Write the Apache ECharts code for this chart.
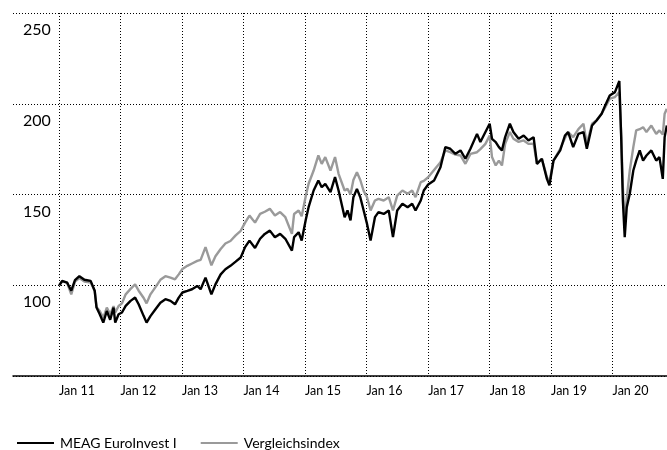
<!DOCTYPE html>
<html>
<head>
<meta charset="utf-8">
<title>MEAG EuroInvest I</title>
<script src="https://cdn.jsdelivr.net/npm/echarts@6/dist/echarts.min.js"></script>
<style>
  html, body { margin: 0; padding: 0; background: #fff; }
  #chart { width: 667px; height: 450px; }
</style>
</head>
<body>
<div id="chart"></div>
<script>
const dates = [
  '2011-01-03', '2011-01-20', '2011-02-18', '2011-03-15', '2011-04-06', '2011-05-02', '2011-06-01', '2011-07-08',
  '2011-08-01', '2011-08-12', '2011-08-31', '2011-09-21', '2011-10-12', '2011-11-01', '2011-11-21', '2011-12-01',
  '2011-12-21', '2012-01-10', '2012-02-01', '2012-03-01', '2012-03-28', '2012-04-18', '2012-05-18', '2012-06-04',
  '2012-06-27', '2012-07-27', '2012-08-25', '2012-09-24', '2012-10-24', '2012-11-20', '2012-12-12', '2013-01-03',
  '2013-02-01', '2013-03-01', '2013-04-01', '2013-04-21', '2013-05-20', '2013-06-24', '2013-07-18', '2013-08-18',
  '2013-09-15', '2013-10-15', '2013-11-15', '2013-12-15', '2014-01-10', '2014-02-05', '2014-03-10', '2014-04-09',
  '2014-05-07', '2014-06-06', '2014-07-06', '2014-08-06', '2014-09-06', '2014-10-15', '2014-10-28', '2014-11-24',
  '2014-12-12', '2015-01-05', '2015-01-22', '2015-02-21', '2015-03-21', '2015-04-10', '2015-05-01', '2015-06-01',
  '2015-06-28', '2015-07-19', '2015-08-24', '2015-09-10', '2015-09-28', '2015-10-15', '2015-11-05', '2015-11-25',
  '2015-12-15', '2016-01-04', '2016-01-25', '2016-02-20', '2016-03-12', '2016-04-12', '2016-05-12', '2016-06-06',
  '2016-07-01', '2016-08-01', '2016-09-01', '2016-09-28', '2016-10-18', '2016-11-18', '2016-12-06', '2017-01-01',
  '2017-02-05', '2017-03-15', '2017-04-13', '2017-05-12', '2017-06-12', '2017-07-12', '2017-08-10', '2017-09-09',
  '2017-10-18', '2017-11-07', '2017-12-07', '2018-01-01', '2018-01-15', '2018-02-06', '2018-02-25', '2018-03-15',
  '2018-04-03', '2018-05-01', '2018-05-22', '2018-06-22', '2018-07-22', '2018-08-19', '2018-09-19', '2018-10-09',
  '2018-11-07', '2018-12-07', '2018-12-22', '2019-01-15', '2019-02-24', '2019-03-24', '2019-04-12', '2019-05-12',
  '2019-06-12', '2019-07-12', '2019-08-01', '2019-09-01', '2019-09-28', '2019-10-28', '2019-11-18', '2019-12-15',
  '2020-01-15', '2020-02-10', '2020-02-21', '2020-03-02', '2020-03-13', '2020-03-25', '2020-04-12', '2020-05-03',
  '2020-05-20', '2020-06-10', '2020-06-30', '2020-07-20', '2020-08-18', '2020-09-16', '2020-10-05', '2020-10-25',
  '2020-11-05', '2020-11-18'
]
const meag = [
  100, 102.4, 101.5, 97, 102.8, 105, 103, 102.4,
  97, 87.7, 84, 79.4, 85.8, 81, 87.7, 79.4,
  84, 85, 88.6, 91.4, 93.2, 89.5, 83, 79.4,
  83, 86.8, 90.4, 92.3, 91.4, 89.5, 93.2, 96,
  96.9, 97.8, 99.6, 97.8, 104.2, 95, 100.5, 106,
  108.8, 110.7, 113, 115.3, 121, 124.6, 120.5, 125.6,
  128.3, 130.1, 126.5, 128.3, 125.6, 119.1, 126.5, 129.2,
  124.6, 136, 143, 152.2, 157.7, 154, 155.9, 151.3,
  159.6, 152.2, 137.5, 141.2, 135.7, 148.5, 153.1, 148.5,
  141.2, 133.8, 124.6, 137.5, 140.3, 139.3, 141.2, 126.5,
  141.2, 144.9, 143, 144.9, 141.2, 146.7, 152.2, 155.5,
  157.7, 165, 176.1, 175.2, 172.4, 174.3, 169.7, 175.2,
  183.4, 178.9, 184.4, 189, 180.7, 178.9, 176.1, 174.3,
  181.6, 189, 184.4, 180.7, 182.5, 179.8, 181.6, 166.9,
  169.7, 158.6, 155, 168.7, 174.3, 182.5, 184.4, 176.1,
  183.4, 184.4, 175.2, 188, 190.8, 194.5, 199.1, 204.6,
  206.4, 212.5, 181.6, 146.7, 126.5, 143, 150.4, 163.2,
  168.7, 174.3, 168.7, 171.5, 174.3, 168.7, 170.6, 158.6,
  181.6, 188
]
const vergleich = [
  100, 102, 101.5, 95, 102, 104, 102, 101.5,
  97, 88, 85.8, 82, 87.7, 84, 88.5, 85,
  88.6, 90, 95, 98, 100.5, 97, 93, 90,
  95, 99, 103, 105, 104.2, 103.3, 106, 109,
  110.7, 112, 113.4, 114, 121, 111, 116, 120,
  123, 124.4, 127.5, 130, 134.5, 138.4, 134.5, 139.3,
  140.5, 142.1, 138.4, 140.3, 137.5, 128.3, 139.3, 141.2,
  138, 149, 155.9, 163.2, 171.5, 166.9, 170.6, 163.2,
  170.6, 161.4, 152.2, 153.1, 150, 158, 162.3, 158,
  152, 148.5, 141.2, 146.7, 147.6, 146.7, 148.5, 141.2,
  149.4, 152.2, 150.4, 152.2, 148.5, 156.8, 157.5, 159.5,
  163.5, 167.8, 174.3, 173.3, 172, 171.5, 166.9, 172.4,
  173.3, 175, 177.9, 182.5, 170.6, 166, 168.7, 166,
  177.9, 184.4, 180.7, 179, 179.8, 177.9, 178, 166.9,
  169.7, 159.6, 157, 168.7, 175.2, 181, 184.4, 181.6,
  186, 189, 177.9, 189, 191, 194.5, 198, 202.8,
  203.7, 206.4, 183.4, 154, 134, 148, 163.2, 176.1,
  185.3, 186, 187.1, 184.4, 188, 183.4, 185.3, 183,
  194.5, 197.2
]
const tickDates = ['2011-01-01', '2012-01-01', '2013-01-01', '2014-01-01', '2015-01-01',
  '2016-01-01', '2017-01-01', '2018-01-01', '2019-01-01', '2020-01-01']
const tickLabels = ['Jan 11', 'Jan 12', 'Jan 13', 'Jan 14', 'Jan 15',
  'Jan 16', 'Jan 17', 'Jan 18', 'Jan 19', 'Jan 20']

const toTime = d => new Date(d).getTime()
const tickTimes = tickDates.map(toTime)
const font = 'Lato, "Open Sans", sans-serif'

const chart = echarts.init(document.getElementById('chart'))
chart.setOption({
  animation: false,
  textStyle: { fontFamily: font },
  grid: { left: 13, right: 0, top: 13, bottom: 74 },
  legend: {
    data: ['MEAG EuroInvest I', 'Vergleichsindex'],
    left: 12,
    top: 431,
    icon: 'rect',
    itemWidth: 37,
    itemHeight: 2,
    itemGap: 24,
    textStyle: { fontFamily: font, fontSize: 14, color: '#000', padding: [0, 0, 0, 1] }
  },
  xAxis: {
    type: 'value',
    min: toTime('2010-04-03'),
    max: toTime('2020-11-19'),
    axisLine: { show: true, lineStyle: { color: '#000', width: 1.5 } },
    axisTick: { show: false, customValues: tickTimes },
    axisLabel: {
      customValues: tickTimes,
      align: 'left',
      margin: 8,
      fontFamily: font,
      fontSize: 12.5,
      color: '#000',
      formatter: v => tickLabels[tickTimes.indexOf(v)] || ''
    },
    splitLine: { show: true, lineStyle: { color: '#000', width: 1, type: [1, 2] } }
  },
  yAxis: {
    type: 'value',
    min: 50,
    max: 250,
    interval: 50,
    axisLine: { show: false },
    axisTick: { show: false },
    axisLabel: {
      inside: true,
      margin: 10,
      verticalAlign: 'top',
      lineHeight: 34,
      showMinLabel: false,
      fontFamily: font,
      fontSize: 16,
      color: '#000'
    },
    splitLine: { show: true, lineStyle: { color: '#000', width: 1, type: [1, 2] } }
  },
  series: [
    {
      name: 'Vergleichsindex',
      type: 'line',
      data: dates.map((d, i) => [toTime(d), vergleich[i]]),
      showSymbol: false,
      symbol: 'none',
      color: '#9a9a9a',
      lineStyle: { color: '#9a9a9a', width: 2.4 }
    },
    {
      name: 'MEAG EuroInvest I',
      type: 'line',
      data: dates.map((d, i) => [toTime(d), meag[i]]),
      showSymbol: false,
      symbol: 'none',
      color: '#000',
      lineStyle: { color: '#000', width: 2.4 }
    }
  ]
})
</script>
</body>
</html>
